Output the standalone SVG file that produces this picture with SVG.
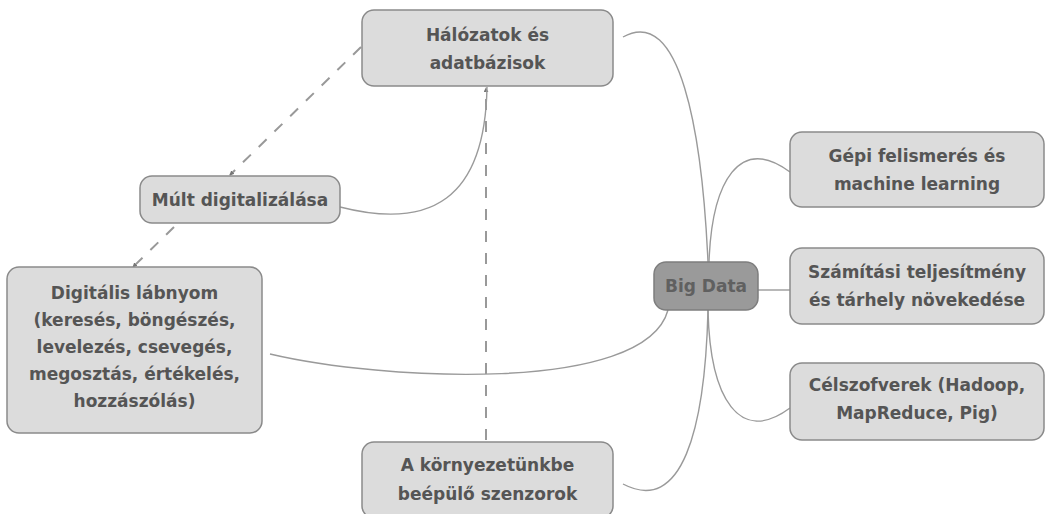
<svg xmlns="http://www.w3.org/2000/svg" width="1047" height="514" viewBox="0 0 1047 514">
<style>
.n rect{fill:#dcdcdc;stroke:#8a8a8a;stroke-width:1.5}
.c rect{fill:#9a9a9a;stroke:#7e7e7e;stroke-width:1.5}
text{font-family:"DejaVu Sans",Verdana,sans-serif;font-weight:bold;font-size:17px;fill:#555;text-anchor:middle}
.c text{fill:#606060}
.l path{fill:none;stroke:#9a9a9a;stroke-width:1.4}
.d path{fill:none;stroke:#999;stroke-width:2;stroke-dasharray:11 11}
</style>
<defs>
<marker id="ah" viewBox="0 0 6 6" refX="5" refY="3" markerWidth="2.5" markerHeight="2.5" orient="auto"><path d="M0,0 L6,3 L0,6 z" fill="#777"/></marker>
</defs>
<g id="connectors">
<g class="d">
<path d="M486,440 L486,88" marker-end="url(#ah)"/>
<path d="M361,47 L230,175" marker-end="url(#ah)"/>
<path d="M174,227 L133,267" marker-end="url(#ah)"/>
</g>
<g class="l">
<path d="M708,262 C702,130 680,5 623,37"/>
<path d="M709,262 C712,180 740,135 790,172"/>
<path d="M758,290 L790,290"/>
<path d="M708,310 C710,400 740,445 790,408"/>
<path d="M708,310 C705,430 682,515 623,484"/>
<path d="M668,310 C645,395 380,380 270,354"/>
<path d="M487,87 C485,200 430,230 340,207"/>
</g>
</g>
<g id="n-halozatok" class="n"><rect x="362" y="10" width="251" height="76" rx="12"/><text x="487.5" y="41">Hálózatok és</text><text x="487.5" y="69">adatbázisok</text></g>
<g id="n-mult" class="n"><rect x="140" y="176" width="200" height="47" rx="12"/><text x="240" y="206">Múlt digitalizálása</text></g>
<g id="n-digitalis" class="n"><rect x="7" y="267" width="255" height="166" rx="12"/><text x="134.5" y="299">Digitális lábnyom</text><text x="134.5" y="326">(keresés, böngészés,</text><text x="134.5" y="353">levelezés, csevegés,</text><text x="134.5" y="380">megosztás, értékelés,</text><text x="134.5" y="407">hozzászólás)</text></g>
<g id="n-kornyezet" class="n"><rect x="362" y="442" width="251" height="76" rx="12"/><text x="487.5" y="471">A környezetünkbe</text><text x="487.5" y="500">beépülő szenzorok</text></g>
<g id="n-bigdata" class="c"><rect x="654" y="262" width="104" height="48" rx="12"/><text x="706" y="292">Big Data</text></g>
<g id="n-gepi" class="n"><rect x="790" y="132" width="254" height="75" rx="12"/><text x="917" y="162">Gépi felismerés és</text><text x="917" y="190">machine learning</text></g>
<g id="n-szamitasi" class="n"><rect x="790" y="248" width="254" height="76" rx="12"/><text x="917" y="278">Számítási teljesítmény</text><text x="917" y="306">és tárhely növekedése</text></g>
<g id="n-celszoftverek" class="n"><rect x="790" y="363" width="254" height="77" rx="12"/><text x="917" y="391">Célszofverek (Hadoop,</text><text x="917" y="419">MapReduce, Pig)</text></g>
</svg>
